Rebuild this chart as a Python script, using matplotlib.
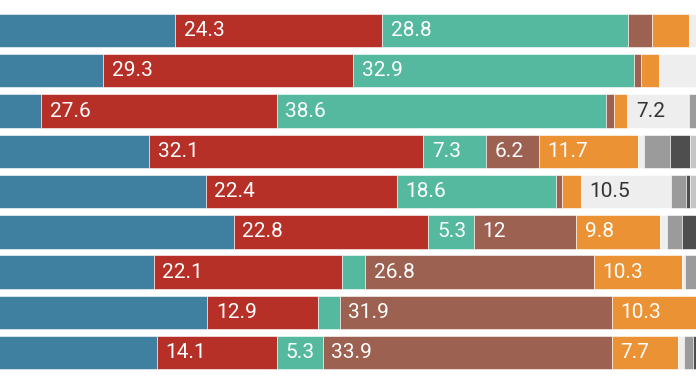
import numpy as np
import matplotlib
matplotlib.use("Agg")
import matplotlib.pyplot as plt

plt.rcParams['font.family'] = ['Roboto', 'DejaVu Sans']

# shares per row, left to right (first segment is cut off on the left)
blue = [35.5, 27.1, 19.8, 32.5, 39.1, 42.4, 33.0, 39.3, 33.4]
red = [24.3, 29.3, 27.6, 32.1, 22.4, 22.8, 22.1, 12.9, 14.1]
teal = [28.8, 32.9, 38.6, 7.3, 18.6, 5.3, 2.7, 2.6, 5.3]
brown = [2.8, 0.8, 0.9, 6.2, 0.7, 12, 26.8, 31.9, 33.9]
orange = [4.3, 2.1, 1.6, 11.7, 2.3, 9.8, 10.3, 10.3, 7.7]
light = [4.3, 4.6, 7.2, 0.7, 10.5, 0.8, 0.4, 0, 0.7]
gray = [0, 3.2, 4.3, 3.0, 1.8, 1.8, 4.7, 3.0, 1.1]
dark = [0, 0, 0, 2.3, 0.5, 3.0, 0, 0, 3.8]
silver = [0, 0, 0, 4.2, 4.1, 2.1, 0, 0, 0]

series = [blue, red, teal, brown, orange, light, gray, dark, silver]
colors = ['#3f7f9f', '#b73028', '#55b9a0', '#9c6150', '#eb9234',
          '#eeeeee', '#9b9b9b', '#4e4e4e', '#c5c5c5']
text_colors = ['white'] * 5 + ['#333333', 'white', 'white', '#333333']

x0 = 15
x1 = x0 + 696 / 8.535

fig = plt.figure(figsize=(6.96, 3.85), dpi=100)
ax = fig.add_axes([0, 0, 1, 1])

rows = np.arange(len(blue))
left = np.zeros(len(blue))
for vals, col, tcol in zip(series, colors, text_colors):
    vals = np.array(vals, dtype=float)
    ax.barh(rows, vals, left=left, height=0.83, color=col,
            edgecolor='white', linewidth=0.4)
    for r, (l, v) in enumerate(zip(left, vals)):
        # labels of segments starting off-canvas are not shown
        if v >= 5 and l >= x0:
            ax.text(l + 1.0, r, f"{v:g}", color=tcol, fontsize=15,
                    va='center', ha='left', clip_on=True)
    left += vals

ax.set_xlim(x0, x1)
ax.set_ylim(8.80, -0.757)
ax.axis('off')

fig.savefig('out.png', dpi=100)
